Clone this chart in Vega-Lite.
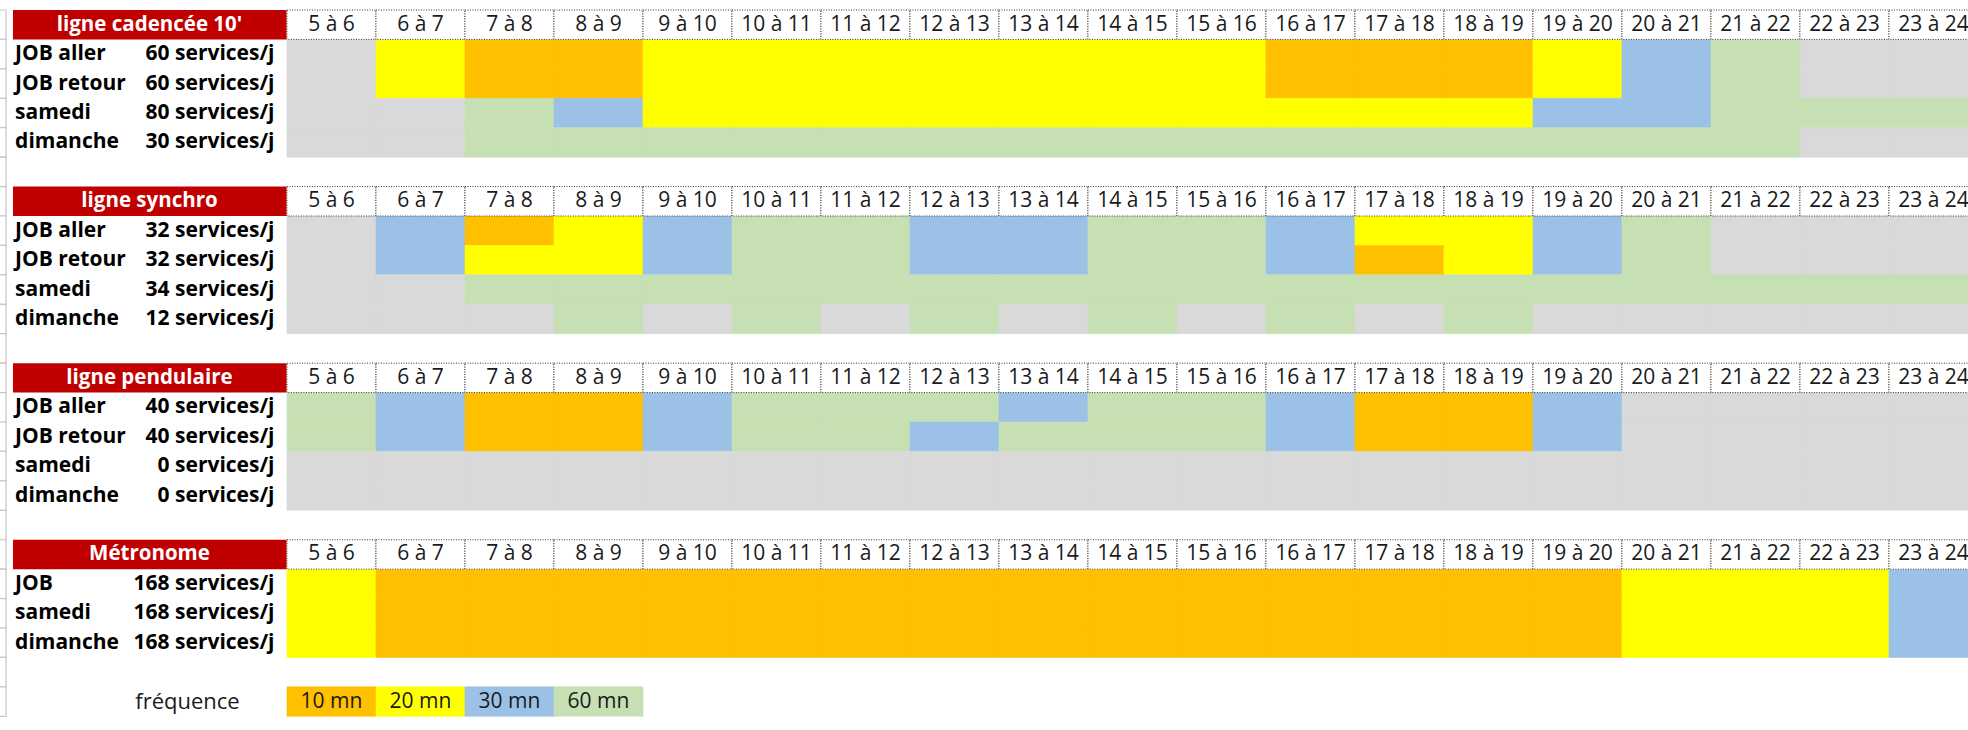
{
 "$schema": "https://vega.github.io/schema/vega-lite/v6.json",
 "width": 1968, "height": 730, "padding": 0,
 "autosize": {"type": "none"},
 "background": "white",
 "config": {"view": {"stroke": null}, "font": "Open Sans"},
 "datasets": {
  "rangees": [
   {"r":"s1t"},{"r":"s1a"},{"r":"s1b"},{"r":"s1c"},{"r":"s1d"},{"r":"s1v"},
   {"r":"s2t"},{"r":"s2a"},{"r":"s2b"},{"r":"s2c"},{"r":"s2d"},{"r":"s2v"},
   {"r":"s3t"},{"r":"s3a"},{"r":"s3b"},{"r":"s3c"},{"r":"s3d"},{"r":"s3v"},
   {"r":"s4t"},{"r":"s4a"},{"r":"s4b"},{"r":"s4c"},{"r":"s4v"},{"r":"leg"}
  ],
  "titres": [
   {"r":"s1t","titre":"ligne cadencée 10'"},
   {"r":"s2t","titre":"ligne synchro"},
   {"r":"s3t","titre":"ligne pendulaire"},
   {"r":"s4t","titre":"Métronome"}
  ],
  "lignes": [
   {"r":"s1a","nom":"JOB aller","services":"60 services/j"},
   {"r":"s1b","nom":"JOB retour","services":"60 services/j"},
   {"r":"s1c","nom":"samedi","services":"80 services/j"},
   {"r":"s1d","nom":"dimanche","services":"30 services/j"},
   {"r":"s2a","nom":"JOB aller","services":"32 services/j"},
   {"r":"s2b","nom":"JOB retour","services":"32 services/j"},
   {"r":"s2c","nom":"samedi","services":"34 services/j"},
   {"r":"s2d","nom":"dimanche","services":"12 services/j"},
   {"r":"s3a","nom":"JOB aller","services":"40 services/j"},
   {"r":"s3b","nom":"JOB retour","services":"40 services/j"},
   {"r":"s3c","nom":"samedi","services":"0 services/j"},
   {"r":"s3d","nom":"dimanche","services":"0 services/j"},
   {"r":"s4a","nom":"JOB","services":"168 services/j"},
   {"r":"s4b","nom":"samedi","services":"168 services/j"},
   {"r":"s4c","nom":"dimanche","services":"168 services/j"}
  ],
  "creneaux": [
   {"label":"5 à 6","h":5,"e":6,"r":["s1t","s2t","s3t","s4t"]},
   {"label":"6 à 7","h":6,"e":7,"r":["s1t","s2t","s3t","s4t"]},
   {"label":"7 à 8","h":7,"e":8,"r":["s1t","s2t","s3t","s4t"]},
   {"label":"8 à 9","h":8,"e":9,"r":["s1t","s2t","s3t","s4t"]},
   {"label":"9 à 10","h":9,"e":10,"r":["s1t","s2t","s3t","s4t"]},
   {"label":"10 à 11","h":10,"e":11,"r":["s1t","s2t","s3t","s4t"]},
   {"label":"11 à 12","h":11,"e":12,"r":["s1t","s2t","s3t","s4t"]},
   {"label":"12 à 13","h":12,"e":13,"r":["s1t","s2t","s3t","s4t"]},
   {"label":"13 à 14","h":13,"e":14,"r":["s1t","s2t","s3t","s4t"]},
   {"label":"14 à 15","h":14,"e":15,"r":["s1t","s2t","s3t","s4t"]},
   {"label":"15 à 16","h":15,"e":16,"r":["s1t","s2t","s3t","s4t"]},
   {"label":"16 à 17","h":16,"e":17,"r":["s1t","s2t","s3t","s4t"]},
   {"label":"17 à 18","h":17,"e":18,"r":["s1t","s2t","s3t","s4t"]},
   {"label":"18 à 19","h":18,"e":19,"r":["s1t","s2t","s3t","s4t"]},
   {"label":"19 à 20","h":19,"e":20,"r":["s1t","s2t","s3t","s4t"]},
   {"label":"20 à 21","h":20,"e":21,"r":["s1t","s2t","s3t","s4t"]},
   {"label":"21 à 22","h":21,"e":22,"r":["s1t","s2t","s3t","s4t"]},
   {"label":"22 à 23","h":22,"e":23,"r":["s1t","s2t","s3t","s4t"]},
   {"label":"23 à 24","h":23,"e":24,"r":["s1t","s2t","s3t","s4t"]}
  ],
  "legende": [
   {"r":"leg","h":5,"e":6,"f":"10 mn"},
   {"r":"leg","h":6,"e":7,"f":"20 mn"},
   {"r":"leg","h":7,"e":8,"f":"30 mn"},
   {"r":"leg","h":8,"e":9,"f":"60 mn"}
  ],
  "legtitre": [{"r":"leg","t":"fréquence"}],
  "cells": [
   {"r":"s1a","h":5,"e":6,"f":"aucun"},{"r":"s1a","h":6,"e":7,"f":"20 mn"},{"r":"s1a","h":7,"e":8,"f":"10 mn"},{"r":"s1a","h":8,"e":9,"f":"10 mn"},{"r":"s1a","h":9,"e":10,"f":"20 mn"},{"r":"s1a","h":10,"e":11,"f":"20 mn"},{"r":"s1a","h":11,"e":12,"f":"20 mn"},{"r":"s1a","h":12,"e":13,"f":"20 mn"},{"r":"s1a","h":13,"e":14,"f":"20 mn"},{"r":"s1a","h":14,"e":15,"f":"20 mn"},{"r":"s1a","h":15,"e":16,"f":"20 mn"},{"r":"s1a","h":16,"e":17,"f":"10 mn"},{"r":"s1a","h":17,"e":18,"f":"10 mn"},{"r":"s1a","h":18,"e":19,"f":"10 mn"},{"r":"s1a","h":19,"e":20,"f":"20 mn"},{"r":"s1a","h":20,"e":21,"f":"30 mn"},{"r":"s1a","h":21,"e":22,"f":"60 mn"},{"r":"s1a","h":22,"e":23,"f":"aucun"},{"r":"s1a","h":23,"e":24,"f":"aucun"},
   {"r":"s1b","h":5,"e":6,"f":"aucun"},{"r":"s1b","h":6,"e":7,"f":"20 mn"},{"r":"s1b","h":7,"e":8,"f":"10 mn"},{"r":"s1b","h":8,"e":9,"f":"10 mn"},{"r":"s1b","h":9,"e":10,"f":"20 mn"},{"r":"s1b","h":10,"e":11,"f":"20 mn"},{"r":"s1b","h":11,"e":12,"f":"20 mn"},{"r":"s1b","h":12,"e":13,"f":"20 mn"},{"r":"s1b","h":13,"e":14,"f":"20 mn"},{"r":"s1b","h":14,"e":15,"f":"20 mn"},{"r":"s1b","h":15,"e":16,"f":"20 mn"},{"r":"s1b","h":16,"e":17,"f":"10 mn"},{"r":"s1b","h":17,"e":18,"f":"10 mn"},{"r":"s1b","h":18,"e":19,"f":"10 mn"},{"r":"s1b","h":19,"e":20,"f":"20 mn"},{"r":"s1b","h":20,"e":21,"f":"30 mn"},{"r":"s1b","h":21,"e":22,"f":"60 mn"},{"r":"s1b","h":22,"e":23,"f":"aucun"},{"r":"s1b","h":23,"e":24,"f":"aucun"},
   {"r":"s1c","h":5,"e":6,"f":"aucun"},{"r":"s1c","h":6,"e":7,"f":"aucun"},{"r":"s1c","h":7,"e":8,"f":"60 mn"},{"r":"s1c","h":8,"e":9,"f":"30 mn"},{"r":"s1c","h":9,"e":10,"f":"20 mn"},{"r":"s1c","h":10,"e":11,"f":"20 mn"},{"r":"s1c","h":11,"e":12,"f":"20 mn"},{"r":"s1c","h":12,"e":13,"f":"20 mn"},{"r":"s1c","h":13,"e":14,"f":"20 mn"},{"r":"s1c","h":14,"e":15,"f":"20 mn"},{"r":"s1c","h":15,"e":16,"f":"20 mn"},{"r":"s1c","h":16,"e":17,"f":"20 mn"},{"r":"s1c","h":17,"e":18,"f":"20 mn"},{"r":"s1c","h":18,"e":19,"f":"20 mn"},{"r":"s1c","h":19,"e":20,"f":"30 mn"},{"r":"s1c","h":20,"e":21,"f":"30 mn"},{"r":"s1c","h":21,"e":22,"f":"60 mn"},{"r":"s1c","h":22,"e":23,"f":"60 mn"},{"r":"s1c","h":23,"e":24,"f":"60 mn"},
   {"r":"s1d","h":5,"e":6,"f":"aucun"},{"r":"s1d","h":6,"e":7,"f":"aucun"},{"r":"s1d","h":7,"e":8,"f":"60 mn"},{"r":"s1d","h":8,"e":9,"f":"60 mn"},{"r":"s1d","h":9,"e":10,"f":"60 mn"},{"r":"s1d","h":10,"e":11,"f":"60 mn"},{"r":"s1d","h":11,"e":12,"f":"60 mn"},{"r":"s1d","h":12,"e":13,"f":"60 mn"},{"r":"s1d","h":13,"e":14,"f":"60 mn"},{"r":"s1d","h":14,"e":15,"f":"60 mn"},{"r":"s1d","h":15,"e":16,"f":"60 mn"},{"r":"s1d","h":16,"e":17,"f":"60 mn"},{"r":"s1d","h":17,"e":18,"f":"60 mn"},{"r":"s1d","h":18,"e":19,"f":"60 mn"},{"r":"s1d","h":19,"e":20,"f":"60 mn"},{"r":"s1d","h":20,"e":21,"f":"60 mn"},{"r":"s1d","h":21,"e":22,"f":"60 mn"},{"r":"s1d","h":22,"e":23,"f":"aucun"},{"r":"s1d","h":23,"e":24,"f":"aucun"},
   {"r":"s2a","h":5,"e":6,"f":"aucun"},{"r":"s2a","h":6,"e":7,"f":"30 mn"},{"r":"s2a","h":7,"e":8,"f":"10 mn"},{"r":"s2a","h":8,"e":9,"f":"20 mn"},{"r":"s2a","h":9,"e":10,"f":"30 mn"},{"r":"s2a","h":10,"e":11,"f":"60 mn"},{"r":"s2a","h":11,"e":12,"f":"60 mn"},{"r":"s2a","h":12,"e":13,"f":"30 mn"},{"r":"s2a","h":13,"e":14,"f":"30 mn"},{"r":"s2a","h":14,"e":15,"f":"60 mn"},{"r":"s2a","h":15,"e":16,"f":"60 mn"},{"r":"s2a","h":16,"e":17,"f":"30 mn"},{"r":"s2a","h":17,"e":18,"f":"20 mn"},{"r":"s2a","h":18,"e":19,"f":"20 mn"},{"r":"s2a","h":19,"e":20,"f":"30 mn"},{"r":"s2a","h":20,"e":21,"f":"60 mn"},{"r":"s2a","h":21,"e":22,"f":"aucun"},{"r":"s2a","h":22,"e":23,"f":"aucun"},{"r":"s2a","h":23,"e":24,"f":"aucun"},
   {"r":"s2b","h":5,"e":6,"f":"aucun"},{"r":"s2b","h":6,"e":7,"f":"30 mn"},{"r":"s2b","h":7,"e":8,"f":"20 mn"},{"r":"s2b","h":8,"e":9,"f":"20 mn"},{"r":"s2b","h":9,"e":10,"f":"30 mn"},{"r":"s2b","h":10,"e":11,"f":"60 mn"},{"r":"s2b","h":11,"e":12,"f":"60 mn"},{"r":"s2b","h":12,"e":13,"f":"30 mn"},{"r":"s2b","h":13,"e":14,"f":"30 mn"},{"r":"s2b","h":14,"e":15,"f":"60 mn"},{"r":"s2b","h":15,"e":16,"f":"60 mn"},{"r":"s2b","h":16,"e":17,"f":"30 mn"},{"r":"s2b","h":17,"e":18,"f":"10 mn"},{"r":"s2b","h":18,"e":19,"f":"20 mn"},{"r":"s2b","h":19,"e":20,"f":"30 mn"},{"r":"s2b","h":20,"e":21,"f":"60 mn"},{"r":"s2b","h":21,"e":22,"f":"aucun"},{"r":"s2b","h":22,"e":23,"f":"aucun"},{"r":"s2b","h":23,"e":24,"f":"aucun"},
   {"r":"s2c","h":5,"e":6,"f":"aucun"},{"r":"s2c","h":6,"e":7,"f":"aucun"},{"r":"s2c","h":7,"e":8,"f":"60 mn"},{"r":"s2c","h":8,"e":9,"f":"60 mn"},{"r":"s2c","h":9,"e":10,"f":"60 mn"},{"r":"s2c","h":10,"e":11,"f":"60 mn"},{"r":"s2c","h":11,"e":12,"f":"60 mn"},{"r":"s2c","h":12,"e":13,"f":"60 mn"},{"r":"s2c","h":13,"e":14,"f":"60 mn"},{"r":"s2c","h":14,"e":15,"f":"60 mn"},{"r":"s2c","h":15,"e":16,"f":"60 mn"},{"r":"s2c","h":16,"e":17,"f":"60 mn"},{"r":"s2c","h":17,"e":18,"f":"60 mn"},{"r":"s2c","h":18,"e":19,"f":"60 mn"},{"r":"s2c","h":19,"e":20,"f":"60 mn"},{"r":"s2c","h":20,"e":21,"f":"60 mn"},{"r":"s2c","h":21,"e":22,"f":"60 mn"},{"r":"s2c","h":22,"e":23,"f":"60 mn"},{"r":"s2c","h":23,"e":24,"f":"60 mn"},
   {"r":"s2d","h":5,"e":6,"f":"aucun"},{"r":"s2d","h":6,"e":7,"f":"aucun"},{"r":"s2d","h":7,"e":8,"f":"aucun"},{"r":"s2d","h":8,"e":9,"f":"60 mn"},{"r":"s2d","h":9,"e":10,"f":"aucun"},{"r":"s2d","h":10,"e":11,"f":"60 mn"},{"r":"s2d","h":11,"e":12,"f":"aucun"},{"r":"s2d","h":12,"e":13,"f":"60 mn"},{"r":"s2d","h":13,"e":14,"f":"aucun"},{"r":"s2d","h":14,"e":15,"f":"60 mn"},{"r":"s2d","h":15,"e":16,"f":"aucun"},{"r":"s2d","h":16,"e":17,"f":"60 mn"},{"r":"s2d","h":17,"e":18,"f":"aucun"},{"r":"s2d","h":18,"e":19,"f":"60 mn"},{"r":"s2d","h":19,"e":20,"f":"aucun"},{"r":"s2d","h":20,"e":21,"f":"aucun"},{"r":"s2d","h":21,"e":22,"f":"aucun"},{"r":"s2d","h":22,"e":23,"f":"aucun"},{"r":"s2d","h":23,"e":24,"f":"aucun"},
   {"r":"s3a","h":5,"e":6,"f":"60 mn"},{"r":"s3a","h":6,"e":7,"f":"30 mn"},{"r":"s3a","h":7,"e":8,"f":"10 mn"},{"r":"s3a","h":8,"e":9,"f":"10 mn"},{"r":"s3a","h":9,"e":10,"f":"30 mn"},{"r":"s3a","h":10,"e":11,"f":"60 mn"},{"r":"s3a","h":11,"e":12,"f":"60 mn"},{"r":"s3a","h":12,"e":13,"f":"60 mn"},{"r":"s3a","h":13,"e":14,"f":"30 mn"},{"r":"s3a","h":14,"e":15,"f":"60 mn"},{"r":"s3a","h":15,"e":16,"f":"60 mn"},{"r":"s3a","h":16,"e":17,"f":"30 mn"},{"r":"s3a","h":17,"e":18,"f":"10 mn"},{"r":"s3a","h":18,"e":19,"f":"10 mn"},{"r":"s3a","h":19,"e":20,"f":"30 mn"},{"r":"s3a","h":20,"e":21,"f":"aucun"},{"r":"s3a","h":21,"e":22,"f":"aucun"},{"r":"s3a","h":22,"e":23,"f":"aucun"},{"r":"s3a","h":23,"e":24,"f":"aucun"},
   {"r":"s3b","h":5,"e":6,"f":"60 mn"},{"r":"s3b","h":6,"e":7,"f":"30 mn"},{"r":"s3b","h":7,"e":8,"f":"10 mn"},{"r":"s3b","h":8,"e":9,"f":"10 mn"},{"r":"s3b","h":9,"e":10,"f":"30 mn"},{"r":"s3b","h":10,"e":11,"f":"60 mn"},{"r":"s3b","h":11,"e":12,"f":"60 mn"},{"r":"s3b","h":12,"e":13,"f":"30 mn"},{"r":"s3b","h":13,"e":14,"f":"60 mn"},{"r":"s3b","h":14,"e":15,"f":"60 mn"},{"r":"s3b","h":15,"e":16,"f":"60 mn"},{"r":"s3b","h":16,"e":17,"f":"30 mn"},{"r":"s3b","h":17,"e":18,"f":"10 mn"},{"r":"s3b","h":18,"e":19,"f":"10 mn"},{"r":"s3b","h":19,"e":20,"f":"30 mn"},{"r":"s3b","h":20,"e":21,"f":"aucun"},{"r":"s3b","h":21,"e":22,"f":"aucun"},{"r":"s3b","h":22,"e":23,"f":"aucun"},{"r":"s3b","h":23,"e":24,"f":"aucun"},
   {"r":"s3c","h":5,"e":6,"f":"aucun"},{"r":"s3c","h":6,"e":7,"f":"aucun"},{"r":"s3c","h":7,"e":8,"f":"aucun"},{"r":"s3c","h":8,"e":9,"f":"aucun"},{"r":"s3c","h":9,"e":10,"f":"aucun"},{"r":"s3c","h":10,"e":11,"f":"aucun"},{"r":"s3c","h":11,"e":12,"f":"aucun"},{"r":"s3c","h":12,"e":13,"f":"aucun"},{"r":"s3c","h":13,"e":14,"f":"aucun"},{"r":"s3c","h":14,"e":15,"f":"aucun"},{"r":"s3c","h":15,"e":16,"f":"aucun"},{"r":"s3c","h":16,"e":17,"f":"aucun"},{"r":"s3c","h":17,"e":18,"f":"aucun"},{"r":"s3c","h":18,"e":19,"f":"aucun"},{"r":"s3c","h":19,"e":20,"f":"aucun"},{"r":"s3c","h":20,"e":21,"f":"aucun"},{"r":"s3c","h":21,"e":22,"f":"aucun"},{"r":"s3c","h":22,"e":23,"f":"aucun"},{"r":"s3c","h":23,"e":24,"f":"aucun"},
   {"r":"s3d","h":5,"e":6,"f":"aucun"},{"r":"s3d","h":6,"e":7,"f":"aucun"},{"r":"s3d","h":7,"e":8,"f":"aucun"},{"r":"s3d","h":8,"e":9,"f":"aucun"},{"r":"s3d","h":9,"e":10,"f":"aucun"},{"r":"s3d","h":10,"e":11,"f":"aucun"},{"r":"s3d","h":11,"e":12,"f":"aucun"},{"r":"s3d","h":12,"e":13,"f":"aucun"},{"r":"s3d","h":13,"e":14,"f":"aucun"},{"r":"s3d","h":14,"e":15,"f":"aucun"},{"r":"s3d","h":15,"e":16,"f":"aucun"},{"r":"s3d","h":16,"e":17,"f":"aucun"},{"r":"s3d","h":17,"e":18,"f":"aucun"},{"r":"s3d","h":18,"e":19,"f":"aucun"},{"r":"s3d","h":19,"e":20,"f":"aucun"},{"r":"s3d","h":20,"e":21,"f":"aucun"},{"r":"s3d","h":21,"e":22,"f":"aucun"},{"r":"s3d","h":22,"e":23,"f":"aucun"},{"r":"s3d","h":23,"e":24,"f":"aucun"},
   {"r":"s4a","h":5,"e":6,"f":"20 mn"},{"r":"s4a","h":6,"e":7,"f":"10 mn"},{"r":"s4a","h":7,"e":8,"f":"10 mn"},{"r":"s4a","h":8,"e":9,"f":"10 mn"},{"r":"s4a","h":9,"e":10,"f":"10 mn"},{"r":"s4a","h":10,"e":11,"f":"10 mn"},{"r":"s4a","h":11,"e":12,"f":"10 mn"},{"r":"s4a","h":12,"e":13,"f":"10 mn"},{"r":"s4a","h":13,"e":14,"f":"10 mn"},{"r":"s4a","h":14,"e":15,"f":"10 mn"},{"r":"s4a","h":15,"e":16,"f":"10 mn"},{"r":"s4a","h":16,"e":17,"f":"10 mn"},{"r":"s4a","h":17,"e":18,"f":"10 mn"},{"r":"s4a","h":18,"e":19,"f":"10 mn"},{"r":"s4a","h":19,"e":20,"f":"10 mn"},{"r":"s4a","h":20,"e":21,"f":"20 mn"},{"r":"s4a","h":21,"e":22,"f":"20 mn"},{"r":"s4a","h":22,"e":23,"f":"20 mn"},{"r":"s4a","h":23,"e":24,"f":"30 mn"},
   {"r":"s4b","h":5,"e":6,"f":"20 mn"},{"r":"s4b","h":6,"e":7,"f":"10 mn"},{"r":"s4b","h":7,"e":8,"f":"10 mn"},{"r":"s4b","h":8,"e":9,"f":"10 mn"},{"r":"s4b","h":9,"e":10,"f":"10 mn"},{"r":"s4b","h":10,"e":11,"f":"10 mn"},{"r":"s4b","h":11,"e":12,"f":"10 mn"},{"r":"s4b","h":12,"e":13,"f":"10 mn"},{"r":"s4b","h":13,"e":14,"f":"10 mn"},{"r":"s4b","h":14,"e":15,"f":"10 mn"},{"r":"s4b","h":15,"e":16,"f":"10 mn"},{"r":"s4b","h":16,"e":17,"f":"10 mn"},{"r":"s4b","h":17,"e":18,"f":"10 mn"},{"r":"s4b","h":18,"e":19,"f":"10 mn"},{"r":"s4b","h":19,"e":20,"f":"10 mn"},{"r":"s4b","h":20,"e":21,"f":"20 mn"},{"r":"s4b","h":21,"e":22,"f":"20 mn"},{"r":"s4b","h":22,"e":23,"f":"20 mn"},{"r":"s4b","h":23,"e":24,"f":"30 mn"},
   {"r":"s4c","h":5,"e":6,"f":"20 mn"},{"r":"s4c","h":6,"e":7,"f":"10 mn"},{"r":"s4c","h":7,"e":8,"f":"10 mn"},{"r":"s4c","h":8,"e":9,"f":"10 mn"},{"r":"s4c","h":9,"e":10,"f":"10 mn"},{"r":"s4c","h":10,"e":11,"f":"10 mn"},{"r":"s4c","h":11,"e":12,"f":"10 mn"},{"r":"s4c","h":12,"e":13,"f":"10 mn"},{"r":"s4c","h":13,"e":14,"f":"10 mn"},{"r":"s4c","h":14,"e":15,"f":"10 mn"},{"r":"s4c","h":15,"e":16,"f":"10 mn"},{"r":"s4c","h":16,"e":17,"f":"10 mn"},{"r":"s4c","h":17,"e":18,"f":"10 mn"},{"r":"s4c","h":18,"e":19,"f":"10 mn"},{"r":"s4c","h":19,"e":20,"f":"10 mn"},{"r":"s4c","h":20,"e":21,"f":"20 mn"},{"r":"s4c","h":21,"e":22,"f":"20 mn"},{"r":"s4c","h":22,"e":23,"f":"20 mn"},{"r":"s4c","h":23,"e":24,"f":"30 mn"}
  ]
 },
 "encoding": {
  "y": {"field": "r", "type": "nominal", "axis": null,
   "scale": {"domain": ["s1t","s1a","s1b","s1c","s1d","s1v","s2t","s2a","s2b","s2c","s2d","s2v","s3t","s3a","s3b","s3c","s3d","s3v","s4t","s4a","s4b","s4c","s4v","leg"],
    "range": [10, 716.3], "paddingInner": 0, "paddingOuter": 0}}
 },
 "layer": [
  {"data": {"name": "rangees"},
   "mark": {"type": "rect", "fill": "white", "stroke": "#c6c6c6", "strokeWidth": 1.2},
   "encoding": {
    "x": {"datum": 1.70, "type": "quantitative", "axis": null, "scale": {"domain": [1.7753, 23.888], "nice": false, "zero": false}},
    "x2": {"datum": 1.843}
   }},
  {"data": {"name": "cells"},
   "mark": {"type": "rect", "strokeWidth": 0.6},
   "encoding": {
    "x": {"field": "h", "type": "quantitative", "axis": null, "scale": {"domain": [1.7753, 23.888], "nice": false, "zero": false}},
    "x2": {"field": "e"},
    "color": {"field": "f", "type": "nominal", "legend": null, "scale": {"domain": ["10 mn","20 mn","30 mn","60 mn","aucun"], "range": ["#FFC000","#FFFF00","#9BC2E6","#C6E0B4","#D9D9D9"]}},
    "stroke": {"field": "f", "type": "nominal", "legend": null, "scale": {"domain": ["10 mn","20 mn","30 mn","60 mn","aucun"], "range": ["#FFC000","#FFFF00","#9BC2E6","#C6E0B4","#D9D9D9"]}}
   }},
  {"data": {"name": "legende"},
   "mark": {"type": "rect", "strokeWidth": 0.6},
   "encoding": {
    "x": {"field": "h", "type": "quantitative", "axis": null, "scale": {"domain": [1.7753, 23.888], "nice": false, "zero": false}},
    "x2": {"field": "e"},
    "color": {"field": "f", "type": "nominal", "legend": null, "scale": {"domain": ["10 mn","20 mn","30 mn","60 mn","aucun"], "range": ["#FFC000","#FFFF00","#9BC2E6","#C6E0B4","#D9D9D9"]}},
    "stroke": {"field": "f", "type": "nominal", "legend": null, "scale": {"domain": ["10 mn","20 mn","30 mn","60 mn","aucun"], "range": ["#FFC000","#FFFF00","#9BC2E6","#C6E0B4","#D9D9D9"]}}
   }},
  {"data": {"name": "legende"},
   "mark": {"type": "text", "align": "center", "baseline": "middle", "dx": 44.5, "fontSize": 21, "color": "#1a1a1a"},
   "encoding": {
    "x": {"field": "h", "type": "quantitative", "axis": null, "scale": {"domain": [1.7753, 23.888], "nice": false, "zero": false}},
    "text": {"field": "f"}
   }},
  {"data": {"name": "creneaux"},
   "transform": [{"flatten": ["r"]}],
   "mark": {"type": "rect", "fill": "white", "stroke": "#333333", "strokeWidth": 1, "strokeDash": [1, 1.5]},
   "encoding": {
    "x": {"field": "h", "type": "quantitative", "axis": null, "scale": {"domain": [1.7753, 23.888], "nice": false, "zero": false}},
    "x2": {"field": "e"}
   }},
  {"data": {"name": "creneaux"},
   "transform": [{"flatten": ["r"]}],
   "mark": {"type": "text", "align": "center", "baseline": "middle", "dx": 44.5, "fontSize": 21, "color": "#1a1a1a"},
   "encoding": {
    "x": {"field": "h", "type": "quantitative", "axis": null, "scale": {"domain": [1.7753, 23.888], "nice": false, "zero": false}},
    "text": {"field": "label"}
   }},
  {"data": {"name": "titres"},
   "mark": {"type": "rect", "fill": "#C00000"},
   "encoding": {
    "x": {"datum": 1.921, "type": "quantitative", "axis": null, "scale": {"domain": [1.7753, 23.888], "nice": false, "zero": false}},
    "x2": {"datum": 4.995}
   }},
  {"data": {"name": "titres"},
   "mark": {"type": "text", "align": "center", "baseline": "middle", "fontSize": 20.5, "fontWeight": "bold", "color": "white"},
   "encoding": {
    "x": {"datum": 3.455, "type": "quantitative", "axis": null, "scale": {"domain": [1.7753, 23.888], "nice": false, "zero": false}},
    "text": {"field": "titre"}
   }},
  {"data": {"name": "lignes"},
   "mark": {"type": "text", "align": "left", "baseline": "middle", "fontSize": 21, "fontWeight": "bold", "color": "black"},
   "encoding": {
    "x": {"datum": 1.945, "type": "quantitative", "axis": null, "scale": {"domain": [1.7753, 23.888], "nice": false, "zero": false}},
    "text": {"field": "nom"}
   }},
  {"data": {"name": "lignes"},
   "mark": {"type": "text", "align": "right", "baseline": "middle", "fontSize": 21, "fontWeight": "bold", "color": "black"},
   "encoding": {
    "x": {"datum": 4.86, "type": "quantitative", "axis": null, "scale": {"domain": [1.7753, 23.888], "nice": false, "zero": false}},
    "text": {"field": "services"}
   }},
  {"data": {"name": "legtitre"},
   "mark": {"type": "text", "align": "center", "baseline": "middle", "fontSize": 22, "color": "#1a1a1a"},
   "encoding": {
    "x": {"datum": 3.882, "type": "quantitative", "axis": null, "scale": {"domain": [1.7753, 23.888], "nice": false, "zero": false}},
    "text": {"field": "t"}
   }}
 ]
}
